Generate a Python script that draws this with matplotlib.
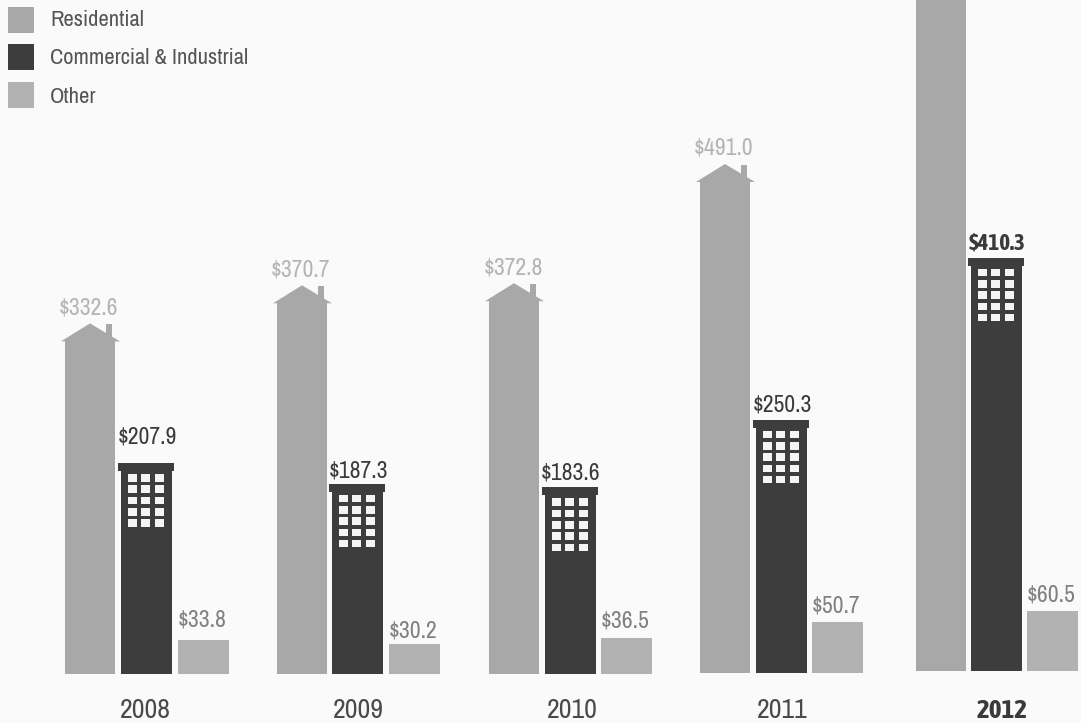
import matplotlib
matplotlib.use('Agg')
import matplotlib.pyplot as plt
from matplotlib.patches import Rectangle

plt.rcParams['font.family'] = ['Archivo Narrow', 'Liberation Sans', 'DejaVu Sans']
bold_family = ['Asap Condensed', 'Liberation Sans', 'DejaVu Sans']

years = ['2008', '2009', '2010', '2011', '2012']
residential = [332.6, 370.7, 372.8, 491.0, 745.0]
commercial = [207.9, 187.3, 183.6, 250.3, 410.3]
other = [33.8, 30.2, 36.5, 50.7, 60.5]

# layout, one unit of value is about one pixel
res_left = [65, 277, 489, 700, 916]
com_left = [121, 332, 545, 756, 971]
oth_left = [178, 389, 601, 812, 1027]
year_x = [145, 358, 572, 782, 1002]
base = [0, 0, 0, 1, 3]
res_gap = [9, 9, 9, 10, 9]
com_gap = [23, 9, 11, 11, 11]
oth_gap = [14, 6, 10, 10, 9]
res_color = '#a8a8a8'
com_color = '#3d3d3d'
oth_color = '#b2b2b2'
paper = '#fafafa'

fig = plt.figure(figsize=(10.81, 7.23), dpi=100, facecolor=paper)
ax = fig.add_axes([0, 0, 1, 1])
ax.set_xlim(0, 1081)
ax.set_ylim(-49, 674)
ax.axis('off')


def draw_house(x, value, b):
    # plain bar with a roof and a chimney on top
    w = 50
    top = b + value
    ax.bar(x, value, w, bottom=b, align='edge', color=res_color, linewidth=0)
    ax.fill([x - 4, x + w / 2, x + w + 5], [top, top + 18, top], color=res_color, linewidth=0)
    ax.fill([x + 41, x + 47, x + 47, x + 41], [top, top, top + 17, top + 17], color=res_color, linewidth=0)


def draw_building(x, value, b):
    # dark tower with a wider cap and a block of windows
    w = 51
    top = b + value
    ax.bar(x, value, w, bottom=b, align='edge', color=com_color, linewidth=0)
    ax.bar(x - 3, 8, w + 5, bottom=top - 5, align='edge', color=com_color, linewidth=0)
    for row in range(5):
        for col in range(3):
            ax.add_patch(Rectangle((x + 6.5 + col * 13.5, top - 15.5 - row * 11.3), 9, 7.5, color='#f4f4f4', linewidth=0))


for i in range(len(years)):
    b = base[i]
    draw_house(res_left[i], residential[i], b)
    draw_building(com_left[i], commercial[i], b)
    ax.bar(oth_left[i], other[i], 51, bottom=b, align='edge', color=oth_color, linewidth=0)

    # the 2012 residential bar runs off the top and has no label
    if residential[i] < 674:
        ax.text(res_left[i] + 24, b + residential[i] + 18 + res_gap[i], '$%.1f' % residential[i], ha='center', va='baseline',
                fontsize=17, color='#b4b4b4')
    if years[i] == '2012':
        ax.text(com_left[i] + 26, b + commercial[i] + com_gap[i], '$%.1f' % commercial[i], ha='center', va='baseline',
                fontsize=16.5, color='#3a3a3a', family=bold_family, fontweight='bold')
        ax.text(year_x[i], -44, years[i], ha='center', va='baseline', fontsize=19.5, color='#3a3a3a',
                family=bold_family, fontweight='bold')
    else:
        ax.text(com_left[i] + 26, b + commercial[i] + com_gap[i], '$%.1f' % commercial[i], ha='center', va='baseline',
                fontsize=17, color='#3a3a3a')
        ax.text(year_x[i], -44, years[i], ha='center', va='baseline', fontsize=20, color='#4a4a4a')
    ax.text(oth_left[i] + 24, b + other[i] + oth_gap[i], '$%.1f' % other[i], ha='center', va='baseline',
            fontsize=17, color='#808080')

# legend
legend_names = ['Residential', 'Commercial & Industrial', 'Other']
legend_colors = [res_color, com_color, oth_color]
legend_y = [641, 604, 566]
legend_text_y = [648, 610, 571]
for name, c, y, ty in zip(legend_names, legend_colors, legend_y, legend_text_y):
    ax.add_patch(Rectangle((8, y), 26, 26, color=c, linewidth=0))
    ax.text(50, ty, name, ha='left', va='baseline', fontsize=16.2, color='#555555')

fig.savefig('out.png', dpi=100, facecolor=paper)
